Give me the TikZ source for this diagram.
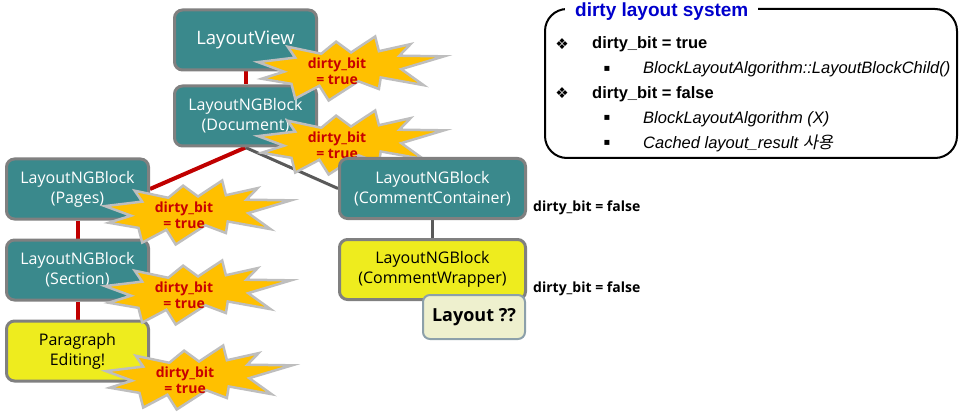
\documentclass[tikz,border=0pt]{standalone}
\usepackage{fontspec}
\setmainfont{Open Sans}
\newfontfamily\arialf{Liberation Sans}
\newfontfamily\djv{DejaVu Sans}
\newfontfamily\krf[FakeSlant=0.2]{Noto Sans CJK KR}
\definecolor{tealc}{RGB}{58,137,140}
\definecolor{bordergray}{RGB}{128,128,128}
\definecolor{yelc}{RGB}{238,236,30}
\definecolor{burstfill}{RGB}{255,192,0}
\definecolor{burstline}{RGB}{190,190,190}
\definecolor{linered}{RGB}{192,0,0}
\definecolor{textred}{RGB}{200,0,0}
\definecolor{linegray}{RGB}{90,90,90}
\definecolor{titleblue}{RGB}{0,0,204}
\definecolor{layoutfill}{RGB}{238,240,206}
\definecolor{layoutline}{RGB}{140,160,170}
\pgfdeclarelayer{background}
\pgfsetlayers{background,main}
\tikzset{
  box/.style={draw=bordergray, line width=3pt, rounded corners=8pt, minimum width=142pt,
    minimum height=60pt, align=center, text=white, inner sep=0pt,
    font=\fontsize{16}{20}\selectfont},
  tealbox/.style={box, fill=tealc},
  yelbox/.style={box, fill=yelc, text=black},
  widebox/.style={minimum width=186pt},
  redline/.style={draw=linered, line width=4pt},
  grayline/.style={draw=linegray, line width=3pt},
  bursttext/.style={align=center, text=textred, inner sep=0pt,
    font=\bfseries\fontsize{14}{16}\selectfont},
  falselabel/.style={anchor=base west, inner sep=0pt, font=\bfseries\fontsize{14}{16}\selectfont},
  bodytext/.style={anchor=base west, inner sep=0pt, font=\arialf\fontsize{16.5}{19}\selectfont},
  burst/.pic={
    \draw[fill=burstfill, draw=burstline, line width=2.5pt, line join=miter]
      (0,40) -- (20,33) -- (16,16) -- (34,27) -- (42,8) -- (50,25) -- (63,0)
      -- (65,23) -- (82,12) -- (76,30) -- (100,31) -- (77,51) -- (89,76)
      -- (66,64) -- (65,82) -- (54,70) -- (38,100) -- (33,77) -- (20,97)
      -- (18,74) -- (2,66) -- (14,55) -- cycle;
    \node[bursttext] (-t) at (42.5,54) {dirty\_bit\\= true};
  }
}
\begin{document}
\begin{tikzpicture}[x=1pt,y=-1pt]
\useasboundingbox (0,0) rectangle (965,414);

% left column nodes
\node[tealbox, font=\fontsize{18.5}{20}\selectfont] (view) at (245.5,40) {LayoutView};
\node[tealbox] (doc) at (245.5,116) {LayoutNGBlock\\(Document)};
\node[tealbox] (pages) at (77.5,189) {LayoutNGBlock\\(Pages)};
\node[tealbox] (section) at (77.5,270) {LayoutNGBlock\\(Section)};
\node[yelbox] (para) at (77.5,351) {Paragraph\\Editing!};

% stars
\pic[xscale=1.86, yscale=0.64] (s1) at (258,36.5) {burst};
\pic[xscale=1.86, yscale=0.64] (s2) at (258,110.5) {burst};
\pic[xscale=1.86, yscale=0.64] (s3) at (105,180.5) {burst};
\pic[xscale=1.86, yscale=0.64] (s4) at (105,260.5) {burst};
\pic[xscale=1.86, yscale=0.64] (s5) at (106,345.5) {burst};

% right column nodes
\node[tealbox, widebox] (cont) at (432.5,188.5) {LayoutNGBlock\\(CommentContainer)};
\node[yelbox, widebox] (wrap) at (432.5,269.5) {LayoutNGBlock\\(CommentWrapper)};
\node[draw=layoutline, fill=layoutfill, line width=2pt, rounded corners=7pt,
      minimum width=102pt, minimum height=44pt, inner sep=0pt,
      font=\bfseries\fontsize{18}{20}\selectfont] (lay) at (474,317) {Layout ??};

\node[falselabel] (f1) at (533,211) {dirty\_bit = false};
\node[falselabel] (f2) at (533,292) {dirty\_bit = false};

% connectors
\begin{pgfonlayer}{background}
\draw[redline] (view.south) -- (doc.north);
\draw[redline] (doc.south) -- (pages.east);
\draw[grayline] (doc.south) -- (cont.west);
\draw[redline] (pages.south) -- (section.north);
\draw[redline] (section.south) -- (para.north);
\draw[grayline] (cont.south) -- (wrap.north);
\end{pgfonlayer}

% legend box
\draw[line width=2pt, rounded corners=22pt] (545,9) rectangle (957,158);
\node[fill=white, anchor=west, inner xsep=10pt, inner ysep=2pt, text=titleblue,
      font=\arialf\bfseries\fontsize{19}{22}\selectfont] (title) at (565,12) {dirty layout system};

\node[inner sep=0pt, font=\djv\fontsize{15}{16}\selectfont] (b1) at (562,44) {❖};
\node[bodytext, font=\arialf\bfseries\fontsize{16.5}{19}\selectfont] (t1) at (592,48.5) {dirty\_bit = true};
\node[inner sep=0pt, font=\djv\fontsize{10}{12}\selectfont] (b2) at (607,69) {▪};
\node[bodytext, font=\arialf\itshape\fontsize{16.5}{19}\selectfont] (t2) at (643,74) {BlockLayoutAlgorithm::LayoutBlockChild()};
\node[inner sep=0pt, font=\djv\fontsize{15}{16}\selectfont] (b3) at (562,93) {❖};
\node[bodytext, font=\arialf\bfseries\fontsize{16.5}{19}\selectfont] (t3) at (592,98.5) {dirty\_bit = false};
\node[inner sep=0pt, font=\djv\fontsize{10}{12}\selectfont] (b4) at (607,118) {▪};
\node[bodytext, font=\arialf\itshape\fontsize{16.5}{19}\selectfont] (t4) at (643,123.5) {BlockLayoutAlgorithm (X)};
\node[inner sep=0pt, font=\djv\fontsize{10}{12}\selectfont] (b5) at (607,143) {▪};
\node[bodytext, font=\arialf\itshape\fontsize{16.5}{19}\selectfont] (t5) at (643,148.5) {Cached layout\_result {\krf 사용}};
\end{tikzpicture}
\end{document}
